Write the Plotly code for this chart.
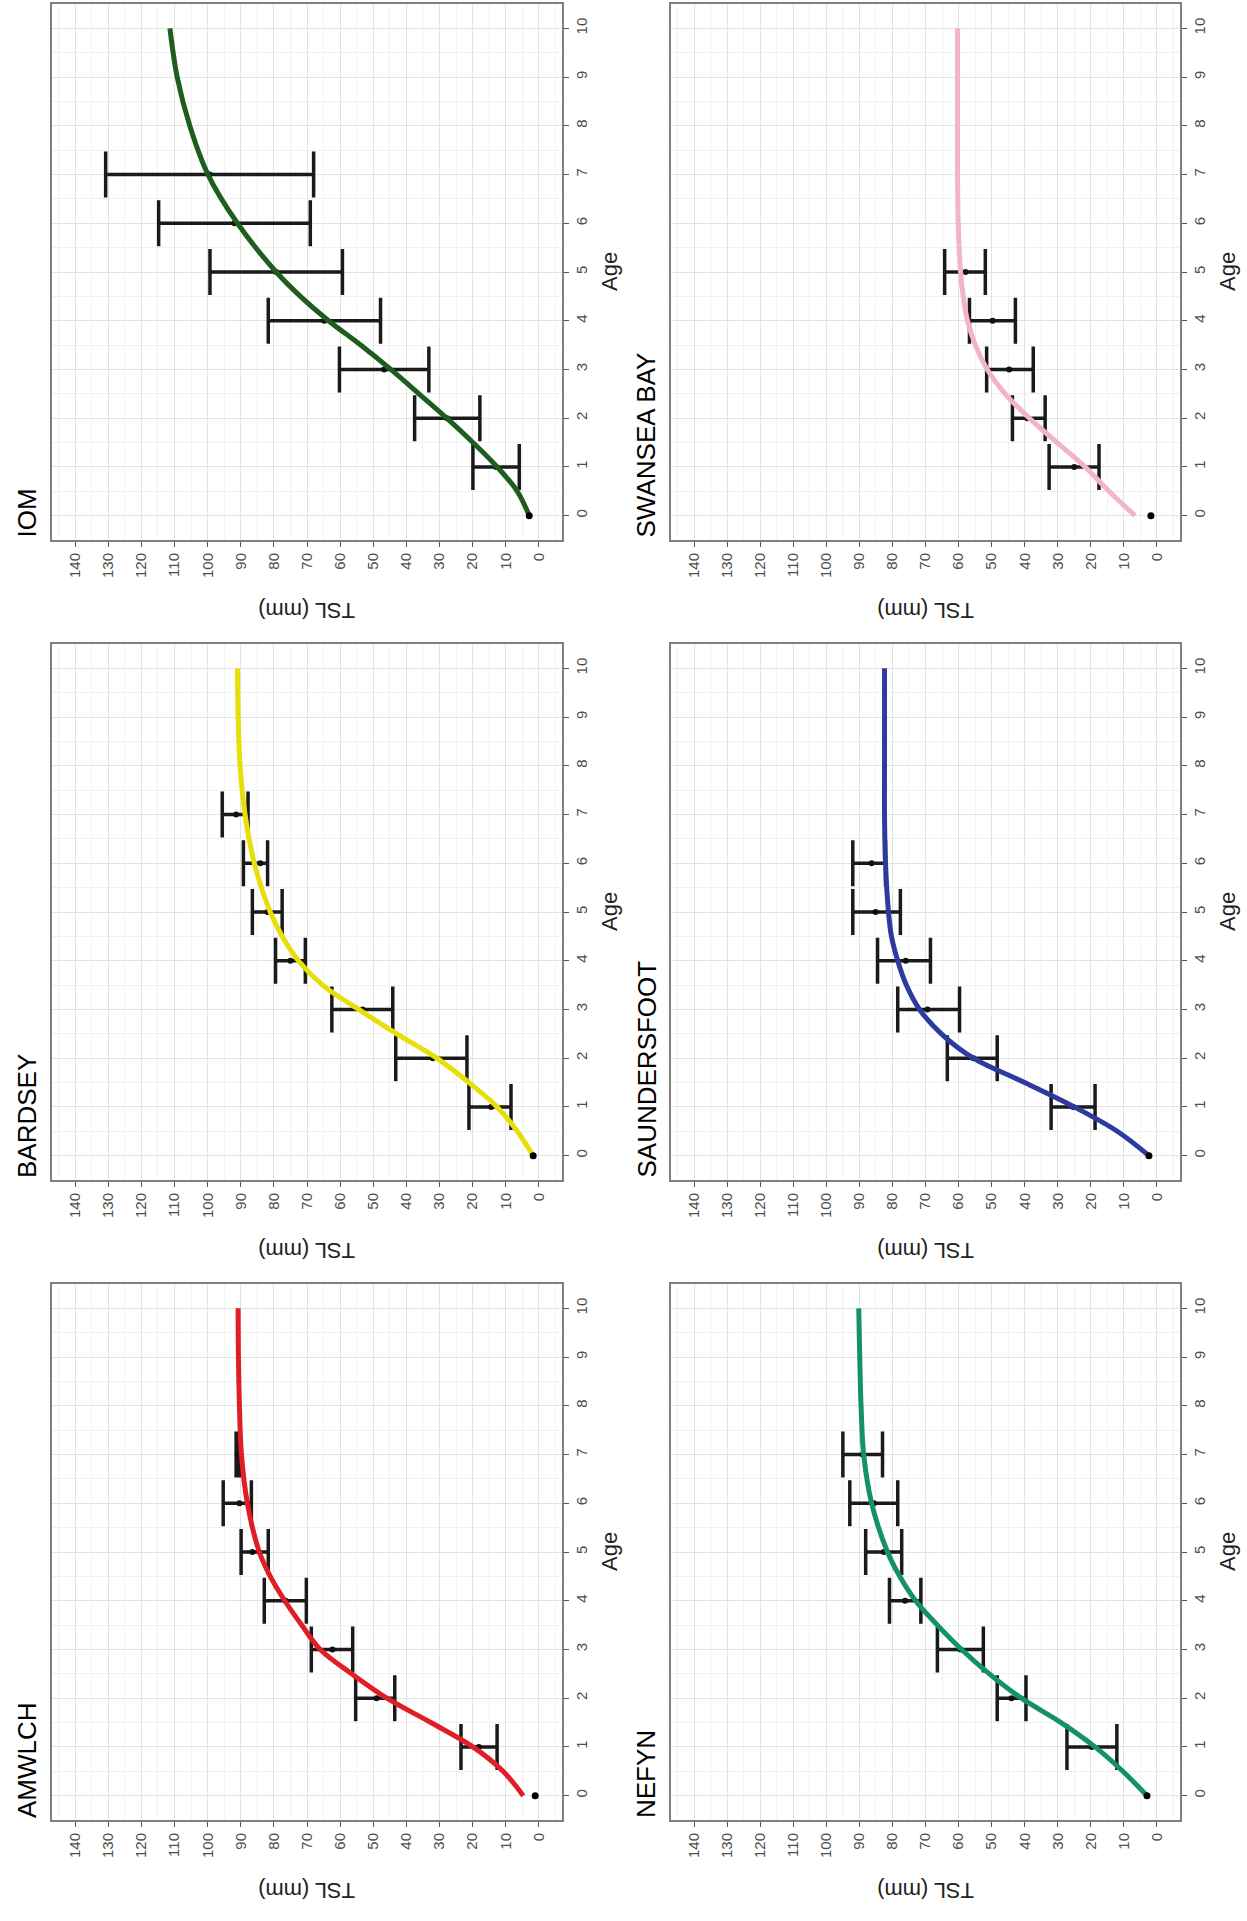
import plotly.graph_objects as go

# ---------------- data ----------------
SITES = ["IOM", "SWANSEA BAY", "BARDSEY", "SAUNDERSFOOT", "AMWLCH", "NEFYN"]

COLORS = {
    "AMWLCH": "#e01e26",
    "BARDSEY": "#e6df0a",
    "IOM": "#1d5e1f",
    "NEFYN": "#14906a",
    "SAUNDERSFOOT": "#2e3a9f",
    "SWANSEA BAY": "#f2b5c6",
}

FIT_AGE = [0, 0.5, 1, 1.5, 2, 2.5, 3, 3.5, 4, 4.5, 5, 6, 7, 8, 9, 10]

FIT_TSL = {
    "AMWLCH":       [4.7, 10.8, 19.9, 32.6, 45.9, 56.5, 66.0, 71.6, 76.7, 81.1, 84.4, 88.0, 89.8, 90.4, 90.7, 90.8],
    "BARDSEY":      [1.7, 6.5, 12.6, 21.1, 30.8, 42.9, 54.4, 65.3, 72.6, 77.5, 81.1, 85.9, 88.7, 90.2, 90.8, 91.0],
    "IOM":          [2.9, 6.5, 12.6, 19.9, 27.8, 36.2, 44.7, 53.8, 63.5, 72.0, 79.3, 91.0, 99.9, 105.4, 109.2, 111.4],
    "NEFYN":        [3.0, 10.3, 18.7, 29.0, 41.0, 50.7, 59.1, 66.4, 73.0, 77.8, 81.5, 86.3, 88.7, 89.5, 89.9, 90.2],
    "SAUNDERSFOOT": [2.4, 12.0, 25.0, 40.0, 55.5, 65.2, 71.8, 75.8, 78.4, 80.3, 81.2, 82.1, 82.4, 82.4, 82.4, 82.4],
    "SWANSEA BAY":  [6.6, 14.5, 21.7, 30.2, 38.6, 45.9, 51.3, 54.9, 57.3, 58.6, 59.4, 60.1, 60.3, 60.3, 60.3, 60.3],
}

BAR_AGE = {
    "AMWLCH": [1, 2, 3, 4, 5, 6, 7],
    "BARDSEY": [1, 2, 3, 4, 5, 6, 7],
    "IOM": [1, 2, 3, 4, 5, 6, 7],
    "NEFYN": [1, 2, 3, 4, 5, 6, 7],
    "SAUNDERSFOOT": [1, 2, 3, 4, 5, 6],
    "SWANSEA BAY": [1, 2, 3, 4, 5],
}

MEAN_TSL = {
    "AMWLCH":       [18.1, 49.0, 62.3, 76.5, 86.5, 90.4, 90.9],
    "BARDSEY":      [14.4, 32.0, 53.2, 75.0, 81.9, 84.1, 91.4],
    "IOM":          [12.9, 27.7, 46.7, 64.8, 79.3, 91.9, 99.4],
    "NEFYN":        [19.7, 44.0, 59.4, 76.2, 82.6, 85.6, 89.0],
    "SAUNDERSFOOT": [25.3, 55.5, 69.4, 76.0, 85.1, 86.3],
    "SWANSEA BAY":  [25.0, 39.2, 44.7, 49.7, 57.9],
}

LO_TSL = {
    "AMWLCH":       [12.6, 43.5, 56.2, 70.2, 81.7, 86.8, 90.4],
    "BARDSEY":      [8.4, 21.7, 44.1, 70.5, 77.5, 81.9, 87.8],
    "IOM":          [5.9, 17.8, 33.2, 47.8, 59.3, 69.0, 68.0],
    "NEFYN":        [12.1, 39.6, 52.5, 71.4, 77.2, 78.4, 83.0],
    "SAUNDERSFOOT": [18.7, 48.3, 59.7, 68.5, 77.6, 82.1],
    "SWANSEA BAY":  [17.5, 33.8, 37.4, 42.8, 51.9],
}

HI_TSL = {
    "AMWLCH":       [23.5, 55.3, 68.7, 82.9, 89.9, 95.3, 91.4],
    "BARDSEY":      [21.1, 43.2, 62.5, 79.5, 86.5, 89.2, 95.6],
    "IOM":          [19.9, 37.5, 60.2, 81.7, 99.3, 114.8, 130.8],
    "NEFYN":        [27.2, 48.3, 66.4, 80.9, 88.1, 92.9, 95.0],
    "SAUNDERSFOOT": [32.0, 63.4, 78.4, 84.5, 92.0, 92.0],
    "SWANSEA BAY":  [32.6, 43.7, 51.5, 56.7, 64.2],
}

AGE0_TSL = {
    "AMWLCH": 1.1, "BARDSEY": 1.7, "IOM": 2.9,
    "NEFYN": 3.0, "SAUNDERSFOOT": 2.4, "SWANSEA BAY": 1.8,
}

TSL_TICKS = list(range(0, 141, 10))
AGE_TICKS = list(range(0, 11))

# ---------------- layout geometry (pixels) ----------------
W, H = 1247, 1921
COL_X = [(52, 562), (671, 1180)]
ROW_Y = [(4, 540), (644, 1180), (1284, 1820)]
FONT = "Liberation Sans, Arial, sans-serif"

fig = go.Figure()
annotations = []
layout_axes = {}

for i, site in enumerate(SITES):
    r, c = divmod(i, 2)
    x0, x1 = COL_X[c]
    y0, y1 = ROW_Y[r]
    n = i + 1
    xa = "x" if n == 1 else f"x{n}"
    ya = "y" if n == 1 else f"y{n}"
    xkey = "xaxis" if n == 1 else f"xaxis{n}"
    ykey = "yaxis" if n == 1 else f"yaxis{n}"

    layout_axes[xkey] = dict(
        domain=[x0 / W, x1 / W], anchor=ya, range=[147, -7],
        tickmode="array", tickvals=TSL_TICKS, tickangle=-90,
        tickfont=dict(size=15, color="#4d4d4d", family=FONT),
        ticks="outside", ticklen=5, tickcolor="#555555", tickwidth=1,
        showgrid=True, gridcolor="#e3e3e3", gridwidth=1,
        minor=dict(dtick=5, showgrid=True, gridcolor="#f1f1f1", ticks=""),
        showline=True, mirror=True, linecolor="#808080", linewidth=2,
        zeroline=False, fixedrange=True,
    )
    layout_axes[ykey] = dict(
        domain=[1 - y1 / H, 1 - y0 / H], anchor=xa, range=[-0.5, 10.5],
        side="right", tickmode="array", tickvals=AGE_TICKS, tickangle=-90,
        tickfont=dict(size=15, color="#4d4d4d", family=FONT),
        ticks="outside", ticklen=5, tickcolor="#555555", tickwidth=1,
        showgrid=True, gridcolor="#e3e3e3", gridwidth=1,
        minor=dict(dtick=0.5, showgrid=True, gridcolor="#f1f1f1", ticks=""),
        showline=True, mirror=True, linecolor="#808080", linewidth=2,
        zeroline=False, fixedrange=True,
    )

    mean = MEAN_TSL[site]
    plus = [h - m for h, m in zip(HI_TSL[site], mean)]
    minus = [m - l for m, l in zip(mean, LO_TSL[site])]

    # error bars with mean points
    fig.add_trace(go.Scatter(
        x=mean, y=BAR_AGE[site], xaxis=xa, yaxis=ya, mode="markers",
        marker=dict(size=6, color="#111111"),
        error_x=dict(type="data", symmetric=False, array=plus, arrayminus=minus,
                     thickness=3.5, width=23, color="#1a1a1a"),
        showlegend=False, hoverinfo="skip",
    ))
    # fitted growth curve
    fig.add_trace(go.Scatter(
        x=FIT_TSL[site], y=FIT_AGE, xaxis=xa, yaxis=ya, mode="lines",
        line=dict(color=COLORS[site], width=5, shape="spline", smoothing=1.0),
        showlegend=False, hoverinfo="skip",
    ))
    # age-0 point
    fig.add_trace(go.Scatter(
        x=[AGE0_TSL[site]], y=[0], xaxis=xa, yaxis=ya, mode="markers",
        marker=dict(size=7, color="#000000"),
        showlegend=False, hoverinfo="skip",
    ))

    # panel title (rotated, reading bottom-to-top, at the left side)
    annotations.append(dict(
        text=site, xref="paper", yref="paper",
        x=(x0 - 8) / W, y=1 - y1 / H, xanchor="right", yanchor="bottom",
        textangle=-90, showarrow=False,
        font=dict(size=26, color="#000000", family=FONT),
    ))
    # TSL axis title (upside down)
    annotations.append(dict(
        text="TSL (mm)", xref="paper", yref="paper",
        x=((x0 + x1) / 2) / W, y=1 - (y1 + 71) / H,
        xanchor="center", yanchor="middle", textangle=180, showarrow=False,
        font=dict(size=22, color="#222222", family=FONT),
    ))
    # Age axis title
    annotations.append(dict(
        text="Age", xref="paper", yref="paper",
        x=(x1 + 47) / W, y=1 - ((y0 + y1) / 2) / H,
        xanchor="center", yanchor="middle", textangle=-90, showarrow=False,
        font=dict(size=22, color="#222222", family=FONT),
    ))

fig.update_layout(
    width=W, height=H, autosize=False,
    margin=dict(l=0, r=0, t=0, b=0),
    paper_bgcolor="white", plot_bgcolor="white",
    showlegend=False, annotations=annotations,
    font=dict(family=FONT),
    **layout_axes,
)

fig.write_html("out.html")
